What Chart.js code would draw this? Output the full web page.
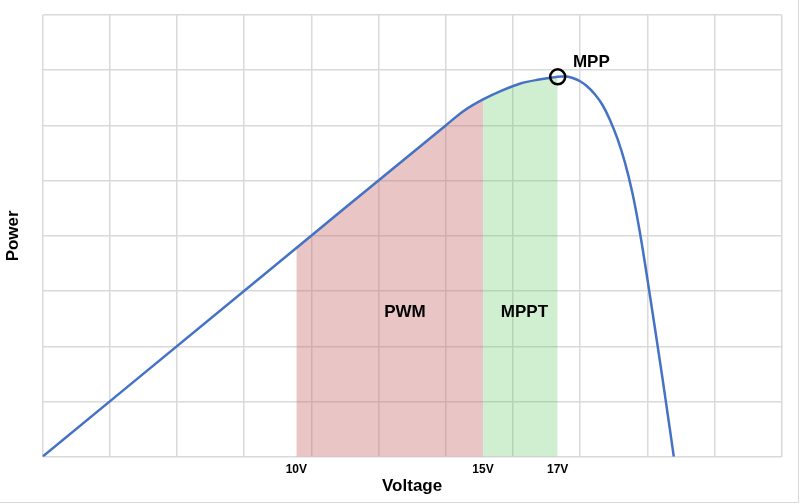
<!DOCTYPE html>
<html>
<head>
<meta charset="utf-8">
<script src="https://cdn.jsdelivr.net/npm/chart.js@4.4.1/dist/chart.umd.min.js"></script>
<style>
  html, body { margin: 0; padding: 0; background: #fff; }
  #wrap {
    width: 798px;
    height: 502px;
    border-right: 1px solid #d9d9d9;
    border-bottom: 1px solid #d9d9d9;
    position: relative;
  }
</style>
</head>
<body>
<div id="wrap"><canvas id="pv-chart"></canvas></div>
<script>
// P-V curve of a solar panel
const voltage = [3.2, 10, 14, 14.5, 15, 15.5, 16, 16.5, 17, 17.2, 17.4, 17.6, 17.8, 18.0, 18.2, 18.4, 18.6, 18.8, 19.0, 19.2, 19.4, 19.6, 19.8, 20.0, 20.11];
const power = [0, 3.78, 6.0, 6.27, 6.47, 6.63, 6.76, 6.83, 6.88, 6.89, 6.86, 6.8, 6.7, 6.56, 6.37, 6.1, 5.76, 5.33, 4.78, 4.07, 3.23, 2.35, 1.45, 0.52, 0];

const tickVoltages = [10, 15, 17];
const tickLabels = ['10V', '15V', '17V'];

const pwmRange = [10, 15];
const mpptRange = [15, 17];
const mppVoltage = 17;

// text labels in the plot (data units)
const noteTexts = ['PWM', 'MPPT', 'MPP'];
const noteX = [12.91, 16.11, 17.9];
const noteY = [2.62, 2.62, 7.14];

const GRID_START = 3.2;
const GRID_STEP = 1.8;
const GRID_COUNT = 11;
const GRID_COLOR = '#d9d9d9';
const FONT = "'Liberation Sans', Arial, sans-serif";

const curve = voltage.map((v, i) => ({ x: v, y: power[i] }));
const inRange = (r) => curve.filter((p) => p.x >= r[0] && p.x <= r[1]);
const mppIndex = voltage.indexOf(mppVoltage);

const notesPlugin = {
  id: 'notes',
  afterDatasetsDraw(chart) {
    const { ctx, scales } = chart;
    ctx.save();
    ctx.font = `bold 17px ${FONT}`;
    ctx.fillStyle = '#000';
    ctx.textAlign = 'center';
    ctx.textBaseline = 'middle';
    noteTexts.forEach((t, i) => {
      ctx.fillText(t, scales.x.getPixelForValue(noteX[i]), scales.y.getPixelForValue(noteY[i]));
    });
    ctx.restore();
  },
};

const ctx = document.getElementById('pv-chart').getContext('2d');
new Chart(ctx, {
  type: 'line',
  data: {
    datasets: [
      {
        label: 'MPP',
        data: [{ x: voltage[mppIndex], y: power[mppIndex] }],
        showLine: false,
        pointRadius: 7.5,
        pointBorderWidth: 2.5,
        pointBorderColor: '#000',
        pointBackgroundColor: 'rgba(0,0,0,0)',
        order: 0,
      },
      {
        label: 'Power',
        data: curve,
        borderColor: '#4472c4',
        borderWidth: 2.5,
        pointRadius: 0,
        cubicInterpolationMode: 'monotone',
        fill: false,
        order: 1,
      },
      {
        label: 'PWM',
        data: inRange(pwmRange),
        borderWidth: 0,
        pointRadius: 0,
        cubicInterpolationMode: 'monotone',
        backgroundColor: 'rgba(200,110,110,0.4)',
        fill: 'origin',
        order: 2,
      },
      {
        label: 'MPPT',
        data: inRange(mpptRange),
        borderWidth: 0,
        pointRadius: 0,
        cubicInterpolationMode: 'monotone',
        backgroundColor: 'rgba(100,200,100,0.3)',
        fill: 'origin',
        order: 3,
      },
    ],
  },
  options: {
    responsive: true,
    maintainAspectRatio: false,
    animation: false,
    layout: { padding: { top: 15, right: 16.3, left: 0, bottom: 0 } },
    plugins: {
      legend: { display: false },
      tooltip: { enabled: false },
    },
    scales: {
      x: {
        type: 'linear',
        min: GRID_START,
        max: GRID_START + GRID_STEP * GRID_COUNT,
        afterBuildTicks: (scale) => {
          const ticks = [];
          for (let i = 0; i <= GRID_COUNT; i++) ticks.push({ value: GRID_START + GRID_STEP * i });
          tickVoltages.forEach((v) => ticks.push({ value: v }));
          ticks.sort((a, b) => a.value - b.value);
          scale.ticks = ticks;
        },
        afterFit: (scale) => { scale.height = 45.3; },
        grid: {
          color: (c) => (c.tick && tickVoltages.includes(c.tick.value) ? 'rgba(0,0,0,0)' : GRID_COLOR),
          lineWidth: 1.5,
          drawTicks: false,
        },
        border: { display: false },
        ticks: {
          autoSkip: false,
          maxRotation: 0,
          padding: 5.5,
          color: '#000',
          font: { family: FONT, size: 12, weight: 'bold' },
          callback: (value) => {
            const i = tickVoltages.indexOf(value);
            return i >= 0 ? tickLabels[i] : '';
          },
        },
        title: {
          display: true,
          text: 'Voltage',
          color: '#000',
          font: { family: FONT, size: 17, weight: 'bold' },
          padding: { top: 0, bottom: 5 },
        },
      },
      y: {
        min: 0,
        max: 8,
        ticks: { display: false, stepSize: 1 },
        afterFit: (scale) => { scale.width = 42.5; },
        grid: { color: GRID_COLOR, lineWidth: 1.5, drawTicks: false },
        border: { display: false },
        title: {
          display: true,
          text: 'Power',
          color: '#000',
          font: { family: FONT, size: 17, weight: 'bold' },
          padding: { top: 3, bottom: 0 },
        },
      },
    },
  },
  plugins: [notesPlugin],
});
</script>
</body>
</html>
